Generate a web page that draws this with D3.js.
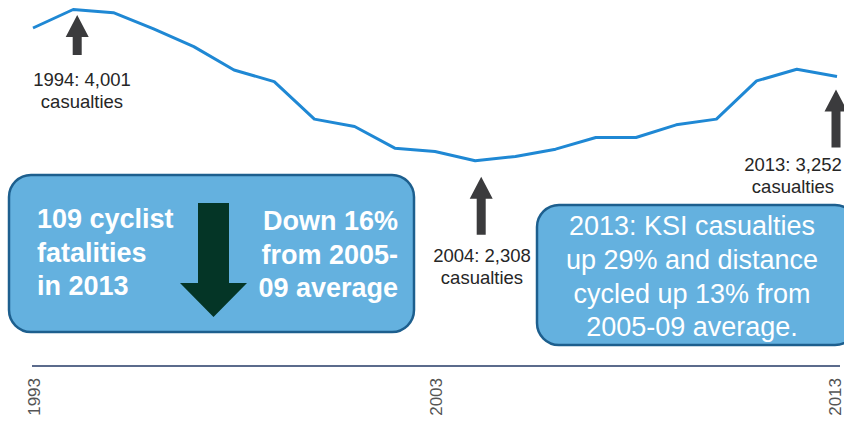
<!DOCTYPE html>
<html>
<head>
<meta charset="utf-8">
<script src="https://cdn.jsdelivr.net/npm/d3@7"></script>
<style>
  html, body { margin: 0; padding: 0; background: #fff; }
  svg { display: block; font-family: "Liberation Sans", Arial, sans-serif; }
</style>
</head>
<body>
<svg id="chart" width="844" height="422"></svg>
<script>
// Reported cyclists killed or seriously injured (KSI), Great Britain
const years = [1993, 1994, 1995, 1996, 1997, 1998, 1999, 2000, 2001, 2002, 2003,
               2004, 2005, 2006, 2007, 2008, 2009, 2010, 2011, 2012, 2013];
const ksi = [3794, 4001, 3965, 3783, 3585, 3324, 3194, 2774, 2691, 2449, 2411,
             2308, 2356, 2438, 2568, 2568, 2710, 2774, 3202, 3332, 3252];
const tickYears = [1993, 2003, 2013];

// Highlighted points along the line
const calloutYears = [1994, 2004, 2013];
const calloutText = ["1994: 4,001", "2004: 2,308", "2013: 3,252"];

const fatalityLines = ["109 cyclist", "fatalities", "in 2013"];
const changeLines = ["Down 16%", "from 2005-", "09 average"];
const ksiLines = ["2013: KSI casualties", "up 29% and distance", "cycled up 13% from", "2005-09 average."];

const svg = d3.select("#chart");

const x = d3.scaleLinear().domain([1993, 2013]).range([33, 837]);
const y = d3.scaleLinear().domain([0, 4001]).range([367, 9.5]);

// Axis along the base
const axis = svg.append("g")
  .attr("transform", "translate(0,366)")
  .call(d3.axisBottom(x).tickValues(tickYears).tickFormat(d3.format("d")).tickSize(0).tickSizeOuter(0));
axis.select(".domain").attr("stroke", "#5b6b8c").attr("stroke-width", 2)
  .attr("d", "M32,0H840");
axis.selectAll("text")
  .attr("transform", "rotate(-90)")
  .attr("x", -12).attr("y", d => d === 2013 ? -3 : 0).attr("dy", "0.36em")
  .style("text-anchor", "end")
  .style("font-family", "'Liberation Sans', Arial, sans-serif")
  .style("font-size", "17px")
  .attr("fill", "#555555");

// Casualty line
const line = d3.line().x((d, i) => x(years[i])).y(d => y(d));
svg.append("path")
  .datum(ksi)
  .attr("d", line)
  .attr("fill", "none")
  .attr("stroke", "#1f88d4")
  .attr("stroke-width", 3)
  .attr("stroke-linejoin", "round");

// Up-pointing arrow shape
function upArrow(cx, tip, bottom, headW, headH, shaftW) {
  return `M${cx},${tip} L${cx + headW / 2},${tip + headH} L${cx + shaftW / 2},${tip + headH}
          L${cx + shaftW / 2},${bottom} L${cx - shaftW / 2},${bottom} L${cx - shaftW / 2},${tip + headH}
          L${cx - headW / 2},${tip + headH} Z`;
}

const calloutLayout = [
  { dx: 4, gap: 5.5, len: 40, tx: 82, ty1: 86 },
  { dx: 6, gap: 16, len: 58, tx: 482, ty1: 262 },
  { dx: -1, gap: 13, len: 58, tx: 793, ty1: 171 }
];

calloutYears.forEach((yr, k) => {
  const v = ksi[years.indexOf(yr)];
  const L = calloutLayout[k];
  const cx = x(yr) + L.dx;
  const tip = y(v) + L.gap;
  svg.append("path")
    .attr("d", upArrow(cx, tip, tip + L.len, 23, 22, 9))
    .attr("fill", "#3b3b3d");
  const t = svg.append("text")
    .attr("text-anchor", "middle")
    .attr("font-size", 18.5)
    .attr("fill", "#262626");
  t.append("tspan").attr("x", L.tx).attr("y", L.ty1).text(calloutText[k]);
  t.append("tspan").attr("x", L.tx).attr("y", L.ty1 + 22).text("casualties");
});

// Fatalities box
const boxFill = "#64b1df", boxStroke = "#1d5f8e";
svg.append("rect")
  .attr("x", 9).attr("y", 175).attr("width", 405).attr("height", 157)
  .attr("rx", 22).attr("ry", 22)
  .attr("fill", boxFill).attr("stroke", boxStroke).attr("stroke-width", 2.5);

const leftT = svg.append("text").attr("fill", "#fff").attr("font-weight", "bold").attr("font-size", 27);
fatalityLines.forEach((s, i) => leftT.append("tspan").attr("x", 37).attr("y", 228 + i * 33.5).text(s));
const rightT = svg.append("text").attr("fill", "#fff").attr("font-weight", "bold").attr("font-size", 27)
  .attr("text-anchor", "end");
changeLines.forEach((s, i) => rightT.append("tspan").attr("x", 398).attr("y", 230 + i * 33.5).text(s));

// Down arrow inside the box
svg.append("path")
  .attr("d", `M198,203 L229,203 L229,283 L247,283 L213.5,317 L180,283 L198,283 Z`)
  .attr("fill", "#043526");

// KSI / distance box
svg.append("rect")
  .attr("x", 537).attr("y", 205).attr("width", 320).attr("height", 140)
  .attr("rx", 22).attr("ry", 22)
  .attr("fill", boxFill).attr("stroke", boxStroke).attr("stroke-width", 2.5);
const ksiT = svg.append("text").attr("fill", "#fff").attr("font-size", 27).attr("text-anchor", "middle");
ksiLines.forEach((s, i) => ksiT.append("tspan").attr("x", 692).attr("y", 235 + i * 33.8).text(s));
</script>
</body>
</html>
